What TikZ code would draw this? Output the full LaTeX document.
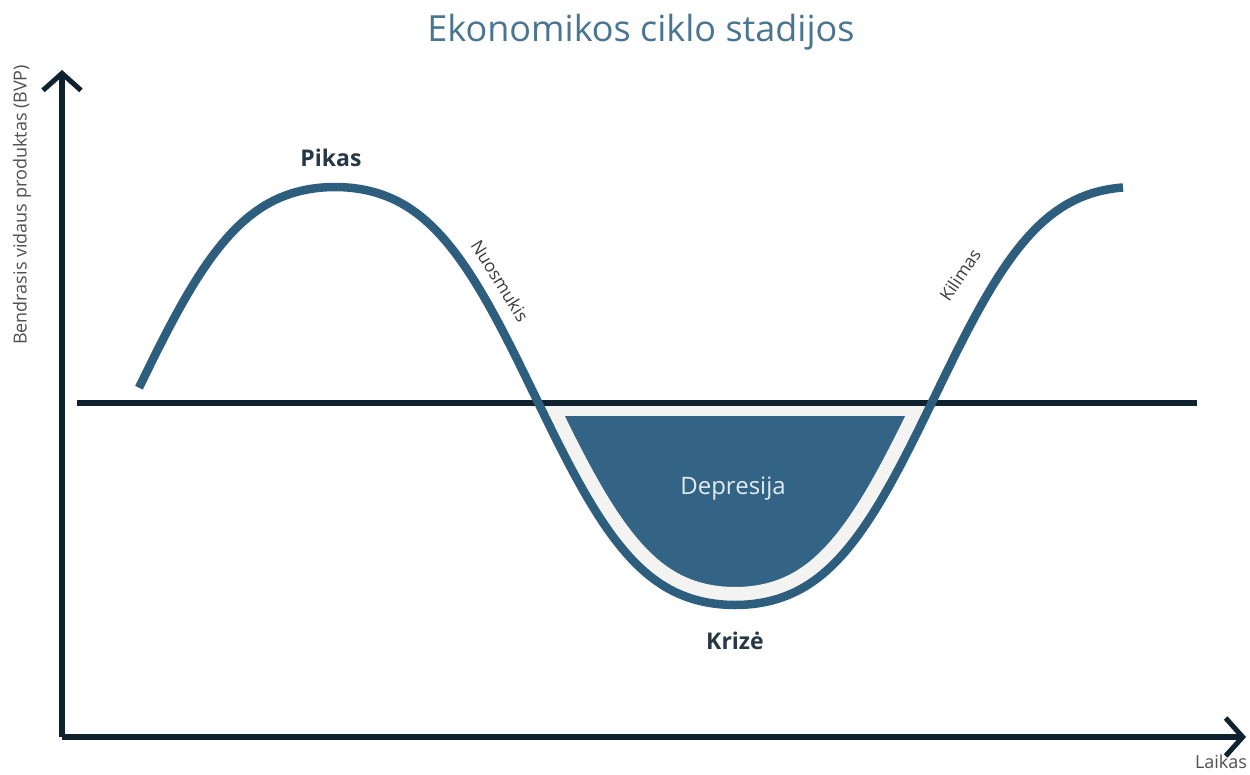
\documentclass[tikz,border=0pt]{standalone}
\usepackage{fontspec}
\setmainfont{Open Sans}
\usetikzlibrary{arrows.meta}
\definecolor{axisdark}{HTML}{0F2230}
\definecolor{curveblue}{HTML}{2E5E7E}
\definecolor{fillblue}{HTML}{346485}
\definecolor{titleblue}{HTML}{4A7591}
\definecolor{labelgray}{HTML}{3C3C3C}
\definecolor{softwhite}{HTML}{E2EBF0}
\definecolor{gapwhite}{HTML}{F3F3F2}
\tikzset{
  axisline/.style={draw=axisdark, line width=6pt,
    -{Straight Barb[length=17pt, width=38pt, line width=5pt]}},
  baseline/.style={draw=axisdark, line width=6pt},
  cycleline/.style={draw=curveblue, line width=8.5pt},
  phase/.style={text=labelgray, font=\fontsize{17.5}{19}\selectfont, inner sep=0pt},
  extremum/.style={text=axisdark!90, font=\fontsize{23}{26}\selectfont\bfseries, inner sep=0pt},
}
% cosine wave with a small third harmonic: broad peaks, steeper slopes
\newcommand{\gdpwave}[1]{396-209*(cos((#1-335)*0.45)-0.06*cos((#1-335)*1.35))/0.94}
\begin{document}
\begin{tikzpicture}[x=1pt, y=-1pt]
  \useasboundingbox[fill=white] (0,0) rectangle (1250,774);

  % axis end points
  \coordinate (origin) at (62,737);
  \coordinate (ytip) at (62,70);
  \coordinate (xtip) at (1246,737);
  \coordinate (lineL) at (77,403);
  \coordinate (lineR) at (1197,403);

  % trough region below the trend line, inside the curve
  \begin{scope}
    \clip (0,406) rectangle (1250,774);
    \clip plot[domain=500:970, samples=121] (\x, {\gdpwave{\x}}) -- cycle;
    % light band next to the curve
    \fill[gapwhite] (0,406) rectangle (1250,774);
    % depression area
    \begin{scope}
      \clip (0,416) rectangle (1250,774);
      \fill[fillblue] plot[domain=500:970, samples=121] (\x, {\gdpwave{\x}}) -- cycle;
    \end{scope}
    \draw[gapwhite, line width=36pt] plot[domain=500:970, samples=121] (\x, {\gdpwave{\x}});
  \end{scope}

  % trend line
  \draw[baseline] (lineL) -- (lineR);

  % business cycle curve
  \draw[cycleline] plot[domain=139:1123, samples=247, smooth] (\x, {\gdpwave{\x}});

  % axes
  \draw[axisline] (origin) -- (ytip);
  \draw[axisline] (origin) -- (xtip);

  % texts
  \node[text=titleblue, font=\fontsize{36}{40}\selectfont, inner sep=0pt] (title) at (641,32) {Ekonomikos ciklo stadijos};
  \node[text=labelgray!90, font=\fontsize{18}{20}\selectfont, rotate=90, inner sep=0pt] (ylab) at (22,205) {Bendrasis vidaus produktas (BVP)};
  \node[text=labelgray!90, font=\fontsize{18}{20}\selectfont, inner sep=0pt] (xlab) at (1221,762) {Laikas};
  \node[extremum] (peak) at (331,158) {Pikas};
  \node[extremum] (trough) at (735,641) {Krizė};
  \node[text=softwhite, font=\fontsize{24}{28}\selectfont, inner sep=0pt] (dep) at (733,489) {Depresija};
  \node[phase, rotate=-58] (down) at (500,281) {Nuosmukis};
  \node[phase, rotate=56] (up) at (960,275) {Kilimas};
\end{tikzpicture}
\end{document}
